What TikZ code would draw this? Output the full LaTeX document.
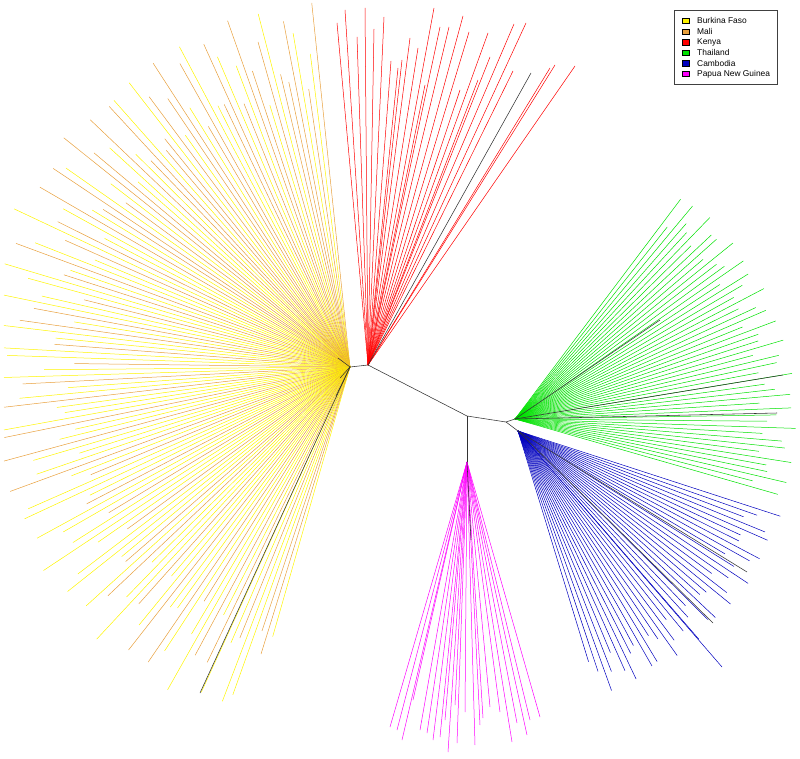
\documentclass[tikz,border=0pt]{standalone}
\usepackage{fontspec}
\setmainfont{Liberation Sans}
\definecolor{bf}{RGB}{255,245,0}
\definecolor{ml}{RGB}{232,160,60}
\definecolor{ke}{RGB}{255,0,0}
\definecolor{th}{RGB}{0,225,0}
\definecolor{ca}{RGB}{0,0,190}
\definecolor{pn}{RGB}{255,0,255}
\begin{document}
\begin{tikzpicture}[x=1pt,y=-1pt,
  leaf/.style={line width=0.5pt},
  inner/.style={line width=0.55pt,draw=black!80},
  legtext/.style={anchor=west,inner sep=0pt,font=\fontsize{8.4}{10}\selectfont}]
\useasboundingbox (0,0) rectangle (800,759);
% hubs
\coordinate (A) at (350,367);
\coordinate (K) at (368,365);
\coordinate (M) at (467,416);
\coordinate (S) at (506,422);
\coordinate (P) at (467,462);
\coordinate (G) at (515,419);
\coordinate (B) at (518,431);
% Africa (Burkina Faso / Mali)
\foreach \c [count=\i] in {ml,bf,ml,bf,ml,ml,ml,bf,ml,bf,
  ml,ml,bf,ml,bf,ml,ml,bf,bf,ml,
  ml,bf,ml,ml,bf,ml,bf,ml,ml,bf,
  ml,ml,bf,ml,bf,bf,ml,ml,bf,ml,
  bf,ml,ml,bf,ml,bf,bf,ml,bf,ml,
  bf,bf,ml,bf,ml,bf,bf,ml,bf,bf,
  ml,bf,ml,bf,bf,ml,bf,bf,ml,bf,
  bf,ml,bf,bf,ml,bf,bf,bf,ml,bf,
  bf,ml,bf,bf,bf,ml,bf,ml,bf,bf,
  bf,ml,bf,bf,ml,bf,bf,bf,ml,bf,
  bf,bf,ml,bf,ml,bf,bf,bf,ml,bf,
  bf,ml,bf,bf,ml,bf,ml,bf,bf,ml,
  bf,ml,bf,bf,ml,bf,bf,ml,ml,bf} {
  \pgfmathsetmacro\t{264-(\i-1)*1.22481}
  \pgfmathsetmacro\r{322+44*sin(\i*97.5)+6*sin(\i*61)-(\i>129)*85}
  \pgfmathsetmacro\ex{\r*cos(\t)}
  \pgfmathsetmacro\ey{\r*sin(\t)}
  \pgfmathsetmacro\f{min(1,346/max(abs(\ex),1),364/max(abs(\ey),1))}
  \draw[leaf,draw=\c] (A) -- ++({\f*\ex},{\f*\ey});
}
\coordinate (a1) at (200,693);
\coordinate (a2) at (338,358);
\coordinate (a3) at (340,378);
\coordinate (a4) at (336,396);
\draw[inner] (A) -- (a1);
\draw[inner] (A) -- (a2);
\draw[inner] (A) -- (a3);
\draw[inner] (A) -- (a4);
% Kenya
\foreach \p in {(337,23),(345,10),(357,37),(365,8),(374,29),(384,17),(391,61),(398,68),(402,60),(410,38),(418,48),(425,85),(434,8),(440,27),(449,27),(463,16),(469,32),(478,80),(488,33),(490,57),(460,90),(514,24),(526,23),(513,71),(550,68),(555,65),(575,66)}
  \draw[leaf,draw=ke] (K) -- \p;
\coordinate (k1) at (531,73);
\draw[inner] (K) -- (k1);
% Thailand
\foreach \i in {1,...,50} {
  \pgfmathsetmacro\t{-53+(\i-1)*1.40816}
  \pgfmathsetmacro\r{263+18*sin(\i*137.5)}
  \draw[leaf,draw=th] (G) -- ++(\t:\r);
}
\coordinate (g1) at (660,320);
\coordinate (g2) at (783,375);
\coordinate (g3) at (777,413);
\draw[inner] (G) -- (g1);
\draw[inner] (G) -- (g2);
\draw[inner] (G) -- (g3);
% Cambodia
\foreach \i in {1,...,40} {
  \pgfmathsetmacro\t{18+(\i-1)*1.41026}
  \pgfmathsetmacro\r{258+18*sin(\i*97.3)}
  \draw[leaf,draw=ca] (B) -- ++(\t:\r);
}
\coordinate (c1) at (722,667);
\coordinate (c2) at (747,572);
\coordinate (c3) at (713,623);
\draw[leaf,draw=ca] (B) -- (c1);
\draw[inner] (B) -- (c2);
\draw[inner] (B) -- (c3);
% Papua New Guinea
\foreach \p in {(390,727),(397,730),(402,740),(413,700),(420,730),(427,733),(433,740),(440,737),(445,720),(448,752),(455,705),(457,743),(465,712),(475,745),(480,725),(483,718),(490,707),(500,712),(512,742),(517,723),(527,735),(530,720),(540,717)}
  \draw[leaf,draw=pn] (P) -- \p;
\coordinate (p1) at (471,540);
\draw[inner] (P) -- (p1);
% internal branches
\draw[inner] (A) -- (K) -- (M) -- (S);
\draw[inner] (M) -- (P);
\draw[inner] (S) -- (G);
\draw[inner] (S) -- (B);
% legend
\draw[line width=0.6pt,draw=black!75] (674,10) rectangle (777,84);
\foreach \col/\txt [count=\j] in {bf/Burkina Faso,ml/Mali,ke/Kenya,th/Thailand,ca/Cambodia,pn/Papua New Guinea} {
  \pgfmathsetmacro\yy{21+(\j-1)*10.6}
  \draw[fill=\col,line width=0.5pt] (682.5,\yy-2.7) rectangle (689.5,\yy+2.7);
  \node[legtext] (lg\j) at (697,\yy) {\txt};
}
\end{tikzpicture}
\end{document}
